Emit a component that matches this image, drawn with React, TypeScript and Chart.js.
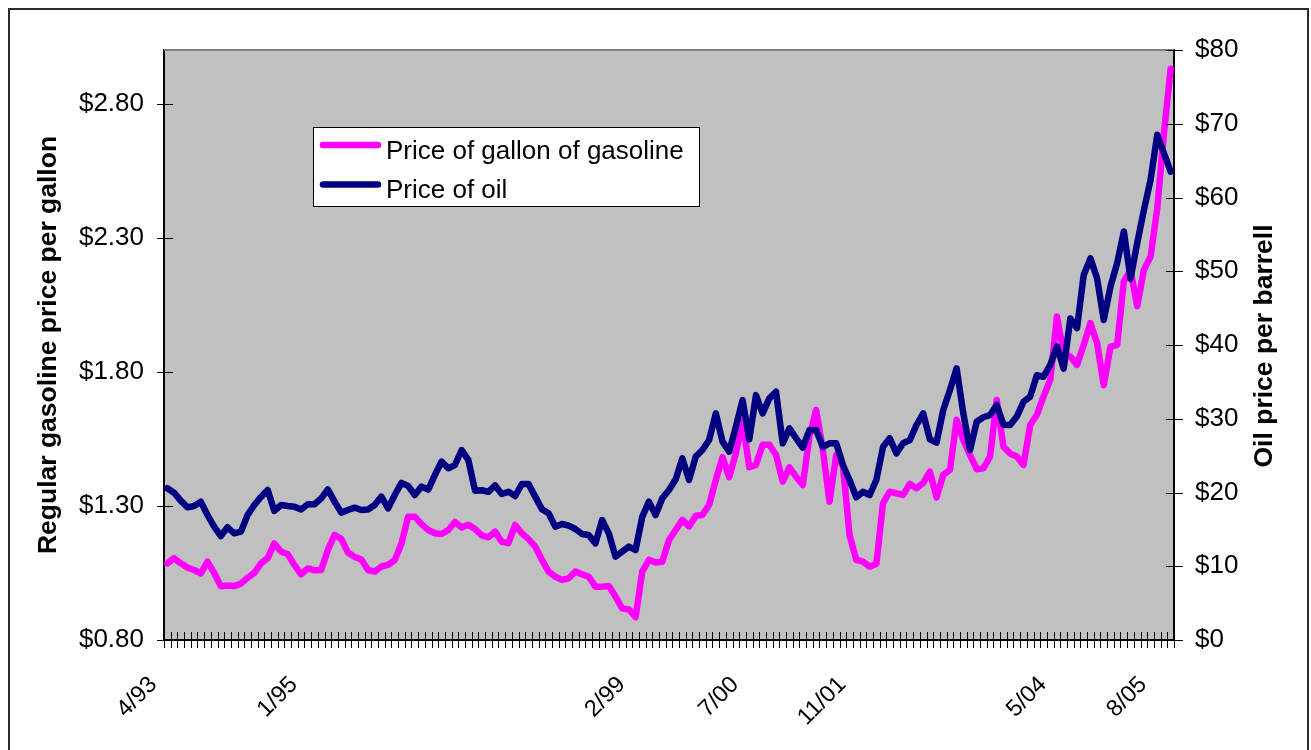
import React, { useEffect, useRef } from "react";
import { Chart, registerables } from "chart.js";

Chart.register(...registerables);

// Monthly categories, 4/93 .. 10/05
const categories: string[] = [];
for (let i = 0; i < 151; i++) {
  const m = ((3 + i) % 12) + 1;
  const y = (93 + Math.floor((3 + i) / 12)) % 100;
  categories.push(`${m}/${String(y).padStart(2, "0")}`);
}

const shownLabels = ["4/93", "1/95", "2/99", "7/00", "11/01", "5/04", "8/05"];

const gasTicks = [0.8, 1.3, 1.8, 2.3, 2.8];

// Regular gasoline, $ per gallon
const gasoline = [
  1.086, 1.105, 1.086, 1.07, 1.061, 1.048, 1.092, 1.05, 1.0, 1.003,
  1.001, 1.01, 1.032, 1.05, 1.086, 1.105, 1.16, 1.13, 1.12, 1.08,
  1.045, 1.067, 1.06, 1.061, 1.136, 1.192, 1.177, 1.126, 1.11, 1.1,
  1.061, 1.055, 1.074, 1.08, 1.098, 1.16, 1.26, 1.26, 1.232, 1.21,
  1.198, 1.195, 1.21, 1.24, 1.22, 1.23, 1.214, 1.19, 1.183, 1.204,
  1.166, 1.161, 1.229, 1.198, 1.176, 1.148, 1.099, 1.055, 1.036, 1.024,
  1.03, 1.055, 1.045, 1.036, 0.999, 0.999, 1.001, 0.962, 0.918, 0.914,
  0.885, 1.055, 1.099, 1.089, 1.092, 1.173, 1.21, 1.248, 1.223, 1.263,
  1.266, 1.304, 1.397, 1.482, 1.407, 1.497, 1.615, 1.444, 1.453, 1.528,
  1.528, 1.49, 1.391, 1.444, 1.409, 1.378, 1.559, 1.658, 1.509, 1.316,
  1.49, 1.45, 1.19, 1.099, 1.092, 1.073, 1.084, 1.31, 1.353, 1.347,
  1.341, 1.382, 1.366, 1.385, 1.428, 1.332, 1.416, 1.434, 1.621, 1.546,
  1.49, 1.437, 1.44, 1.484, 1.695, 1.521, 1.495, 1.484, 1.453, 1.602,
  1.64, 1.708, 1.77, 2.006, 1.87, 1.857, 1.826, 1.9, 1.982, 1.907,
  1.75, 1.894, 1.9, 2.137, 2.18, 2.045, 2.18, 2.23, 2.41, 2.69,
  2.93,
];

// Oil, $ per barrel
const oil = [
  20.57, 19.97, 18.9, 17.99, 18.17, 18.76, 16.95, 15.37, 14.1, 15.28,
  14.46, 14.69, 16.95, 18.3, 19.4, 20.34, 17.5, 18.3, 18.17, 18.08,
  17.7, 18.4, 18.4, 19.2, 20.4, 18.76, 17.27, 17.63, 17.94, 17.63,
  17.7, 18.3, 19.44, 17.85, 19.66, 21.3, 20.9, 19.66, 20.8, 20.4,
  22.37, 24.2, 23.28, 23.73, 25.76, 24.4, 20.25, 20.3, 20.1, 20.95,
  19.8, 20.1, 19.53, 21.15, 21.15, 19.44, 17.72, 17.18, 15.37, 15.73,
  15.5, 15.05, 14.37, 14.24, 13.1, 16.27, 14.46, 11.3, 11.98, 12.66,
  12.2, 16.7, 18.76, 16.95, 19.21, 20.34, 21.8, 24.63, 21.7, 24.86,
  25.76, 27.12, 30.73, 26.9, 25.54, 28.93, 32.54, 27.2, 33.2, 30.73,
  32.77, 33.67, 26.67, 28.7, 27.35, 26.1, 28.47, 28.47, 26.2, 26.67,
  26.67, 23.73, 21.7, 19.35, 20.1, 19.66, 21.7, 26.2, 27.35, 25.3,
  26.67, 27.1, 29.15, 30.73, 27.2, 26.76, 31.19, 33.9, 36.84, 30.73,
  25.76, 29.6, 30.2, 30.5, 31.86, 29.2, 29.15, 30.3, 32.3, 33.0,
  35.9, 35.7, 37.3, 39.8, 36.8, 43.6, 42.3, 49.5, 51.75, 49.05,
  43.4, 47.9, 51.1, 55.4, 49.0, 53.8, 58.3, 62.4, 68.5, 66.0,
  63.5,
];

const seriesNames = ["Price of gallon of gasoline", "Price of oil"];
const seriesColors = ["#FF00FF", "#000080"];
const leftTitle = "Regular gasoline price per gallon";
const rightTitle = "Oil price per barrell";

const FAMILY = '"Liberation Sans", Arial, Helvetica, sans-serif';

const decorPlugin = {
  id: "decor",
  beforeDraw(chart: any) {
    const { ctx, chartArea: a } = chart;
    ctx.save();
    ctx.fillStyle = "#C0C0C0";
    ctx.fillRect(a.left, a.top, a.right - a.left, a.bottom - a.top);
    ctx.restore();
  },
  afterDraw(chart: any) {
    const { ctx, chartArea: a } = chart;
    ctx.save();
    // top border of plot area
    ctx.strokeStyle = "#808080";
    ctx.lineWidth = 2;
    ctx.beginPath();
    ctx.moveTo(a.left, a.top);
    ctx.lineTo(a.right, a.top);
    ctx.stroke();

    // cross tick marks
    ctx.strokeStyle = "#000";
    ctx.lineWidth = 1;
    ctx.beginPath();
    const xs = chart.scales.x;
    for (let k = 0; k <= categories.length; k++) {
      const px = Math.round(xs.getPixelForValue(k - 0.5)) + 0.5;
      ctx.moveTo(px, a.bottom - 8);
      ctx.lineTo(px, a.bottom + 8);
    }
    const yl = chart.scales.y;
    yl.ticks.forEach((t: any) => {
      const py = Math.round(yl.getPixelForValue(t.value)) + 0.5;
      ctx.moveTo(a.left - 7, py);
      ctx.lineTo(a.left + 9, py);
    });
    const yr = chart.scales.y1;
    yr.ticks.forEach((t: any) => {
      const py = Math.round(yr.getPixelForValue(t.value)) + 0.5;
      ctx.moveTo(a.right - 8, py);
      ctx.lineTo(a.right + 9, py);
    });
    ctx.stroke();

    // right axis title (reads bottom to top)
    ctx.save();
    ctx.translate(a.right + 91, (a.top + a.bottom) / 2 + 1);
    ctx.rotate(-Math.PI / 2);
    ctx.font = `bold 26.5px ${FAMILY}`;
    ctx.fillStyle = "#000";
    ctx.textAlign = "center";
    ctx.textBaseline = "middle";
    ctx.fillText(rightTitle, 0, 0);
    ctx.restore();

    // legend box
    const lx = 313.5, ly = 127.5, lw = 386, lh = 79;
    ctx.fillStyle = "#FFFFFF";
    ctx.fillRect(lx, ly, lw, lh);
    ctx.strokeStyle = "#000";
    ctx.lineWidth = 1;
    ctx.strokeRect(lx, ly, lw, lh);
    const rows = [
      { lineY: 145, textY: 158.5 },
      { lineY: 184.5, textY: 197.5 },
    ];
    chart.data.datasets.forEach((ds: any, i: number) => {
      const r = rows[i];
      ctx.strokeStyle = ds.borderColor;
      ctx.lineWidth = 6.5;
      ctx.lineCap = "round";
      ctx.beginPath();
      ctx.moveTo(323, r.lineY);
      ctx.lineTo(378, r.lineY);
      ctx.stroke();
      ctx.fillStyle = "#000";
      ctx.font = `26px ${FAMILY}`;
      ctx.textAlign = "left";
      ctx.textBaseline = "alphabetic";
      ctx.fillText(ds.label, 386, r.textY);
    });
    ctx.restore();
  },
};

export default function App() {
  const ref = useRef<HTMLCanvasElement | null>(null);

  useEffect(() => {
    if (!ref.current) return;
    const chart = new Chart(ref.current, {
      type: "line",
      data: {
        labels: categories,
        datasets: [
          {
            label: seriesNames[0],
            data: gasoline,
            borderColor: seriesColors[0],
            backgroundColor: seriesColors[0],
            borderWidth: 6.5,
            pointRadius: 0,
            tension: 0,
            borderJoinStyle: "round",
            borderCapStyle: "round",
            yAxisID: "y",
            order: 2,
          },
          {
            label: seriesNames[1],
            data: oil,
            borderColor: seriesColors[1],
            backgroundColor: seriesColors[1],
            borderWidth: 6.5,
            pointRadius: 0,
            tension: 0,
            borderJoinStyle: "round",
            borderCapStyle: "round",
            yAxisID: "y1",
            order: 1,
          },
        ],
      },
      options: {
        responsive: false,
        animation: false,
        events: [],
        layout: { padding: { top: 50, left: 0, right: 0, bottom: 0 } },
        plugins: {
          legend: { display: false },
          tooltip: { enabled: false },
        },
        scales: {
          x: {
            type: "category",
            offset: true,
            grid: { display: false, drawTicks: false },
            border: { display: true, color: "#000", width: 2 },
            ticks: {
              autoSkip: false,
              maxRotation: 45,
              minRotation: 45,
              padding: 31,
              labelOffset: -14,
              color: "#000",
              font: { family: FAMILY, size: 23.5 },
              callback: (_v: any, i: number) =>
                shownLabels.includes(categories[i]) ? categories[i] : "",
            },
            afterFit: (s: any) => {
              s.height = 110;
            },
          },
          y: {
            type: "linear",
            position: "left",
            min: 0.8,
            max: 3.0,
            afterBuildTicks: (s: any) => {
              s.ticks = gasTicks.map((v) => ({ value: v }));
            },
            grid: { display: false, drawTicks: false },
            border: { display: true, color: "#000", width: 2 },
            ticks: {
              padding: 20,
              color: "#000",
              font: { family: FAMILY, size: 26 },
              callback: (v: any) => "$" + Number(v).toFixed(2),
            },
            title: {
              display: true,
              text: leftTitle,
              color: "#000",
              font: { family: FAMILY, size: 26.5, weight: "bold" },
              padding: { top: 33, bottom: 0 },
            },
            afterFit: (s: any) => {
              s.width = 164;
            },
          },
          y1: {
            type: "linear",
            position: "right",
            min: 0,
            max: 80,
            grid: { display: false, drawTicks: false },
            border: { display: true, color: "#000", width: 2 },
            ticks: {
              stepSize: 10,
              padding: 21,
              color: "#000",
              font: { family: FAMILY, size: 26 },
              callback: (v: any) => "$" + v,
            },
            afterFit: (s: any) => {
              s.width = 137;
            },
          },
        },
      },
      plugins: [decorPlugin],
    });
    return () => chart.destroy();
  }, []);

  return (
    <>
      <div
        style={{
          position: "absolute",
          left: 8,
          top: 8,
          width: 1297,
          height: 740,
          borderTop: "2px solid #2b2b2b",
          borderLeft: "2px solid #2b2b2b",
          borderRight: "2px solid #2b2b2b",
          boxSizing: "content-box",
        }}
      />
      <canvas
        ref={ref}
        width={1311}
        height={750}
        style={{ position: "absolute", left: 0, top: 0, width: 1311, height: 750 }}
      />
    </>
  );
}
